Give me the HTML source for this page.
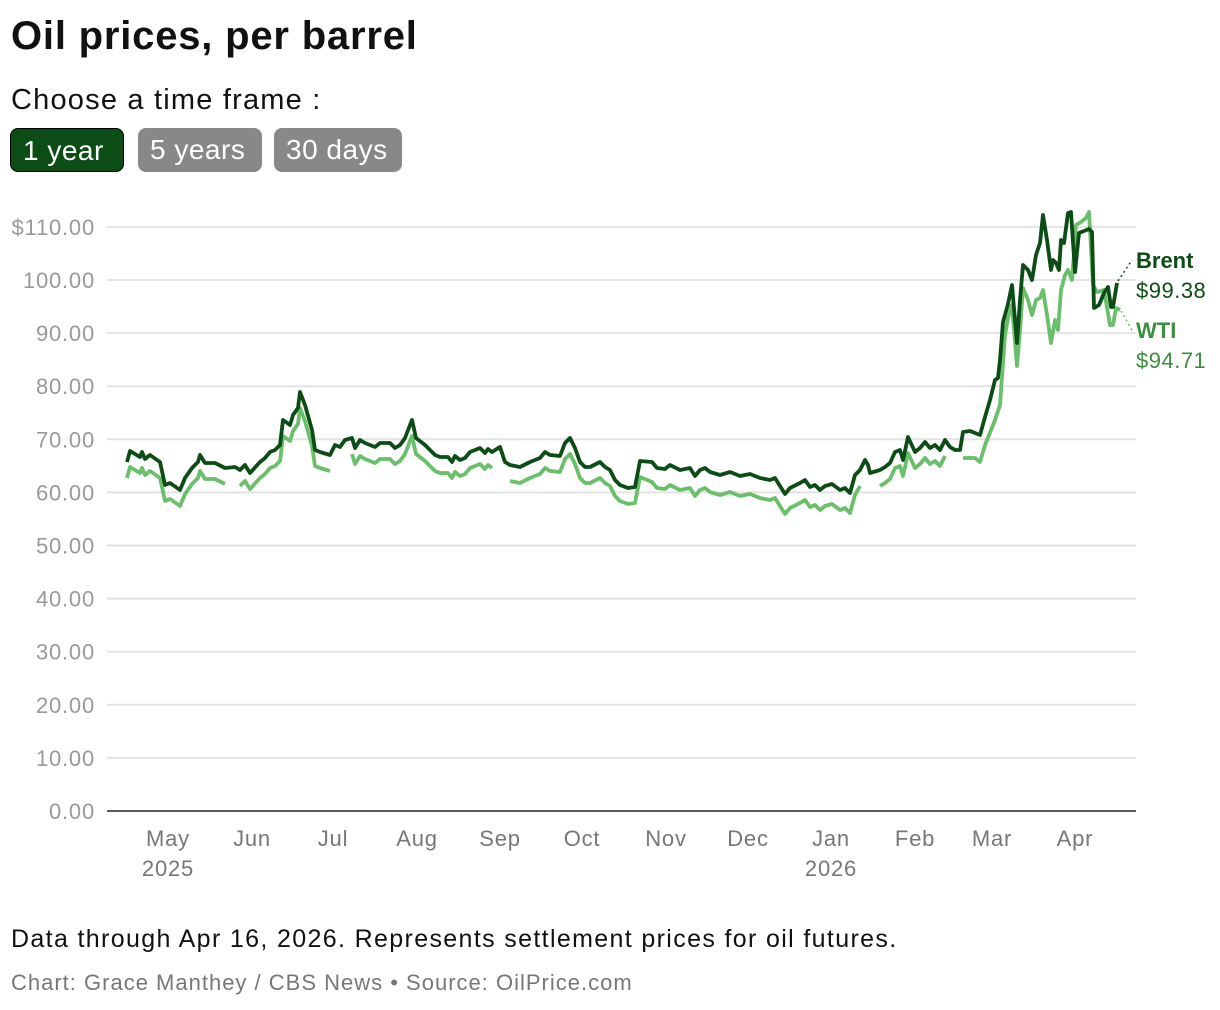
<!DOCTYPE html>
<html><head><meta charset="utf-8"><style>
body{margin:0;width:1220px;height:1010px;background:#fff;font-family:"Liberation Sans",sans-serif;color:#111;position:relative;overflow:hidden}
.t{position:absolute;left:11px;top:14px;font-size:40px;font-weight:bold;letter-spacing:0.8px}
.c{position:absolute;left:11px;top:84px;font-size:29px;letter-spacing:1.2px}
.b{position:absolute;top:128px;height:44px;border-radius:8px;font-size:28px;color:#fff;line-height:44px;padding:0 12px;box-sizing:border-box;letter-spacing:0.5px}
.n{position:absolute;left:11px;top:925px;font-size:25px;letter-spacing:1.35px}
.s{position:absolute;left:11px;top:970px;font-size:22px;color:#777;letter-spacing:1px}
</style></head><body>
<div class="t">Oil prices, per barrel</div>
<div class="c">Choose a time frame :</div>
<div class="b" style="left:10px;width:114px;background:#0b4d15;border:1.5px solid #000">1 year</div>
<div class="b" style="left:138px;width:124px;background:#888">5 years</div>
<div class="b" style="left:274px;width:128px;background:#888">30 days</div>
<svg width="1220" height="1010" style="position:absolute;left:0;top:0" id="s">
<g stroke="#e3e3e3" stroke-width="2" id="g"></g>
<g font-size="22" fill="#999" text-anchor="end" id="yl" letter-spacing="0.8"></g>
<line x1="107" x2="1136" y1="811" y2="811" stroke="#222" stroke-width="1.5"/>
<g font-size="22" fill="#777" text-anchor="middle" letter-spacing="0.8">
<text x="168" y="846">May</text><text x="168" y="876">2025</text><text x="252" y="846">Jun</text><text x="333" y="846">Jul</text><text x="417" y="846">Aug</text><text x="500" y="846">Sep</text><text x="582" y="846">Oct</text><text x="666" y="846">Nov</text><text x="748" y="846">Dec</text><text x="831" y="846">Jan</text><text x="831" y="876">2026</text><text x="915" y="846">Feb</text><text x="992" y="846">Mar</text><text x="1075" y="846">Apr</text>
</g>
<g id="lines" fill="none" stroke-width="3.8" stroke-linejoin="round"></g>
<line x1="1118" y1="281" x2="1132" y2="260" stroke="#0b4d15" stroke-width="1.5" stroke-dasharray="2,3"/>
<line x1="1121" y1="311" x2="1133" y2="332" stroke="#6abf6a" stroke-width="1.5" stroke-dasharray="2,3"/>
<text x="1136" y="268" font-size="22" font-weight="bold" fill="#0b4d15">Brent</text>
<text x="1136" y="298" font-size="22" fill="#0b4d15" letter-spacing="0.5">$99.38</text>
<text x="1136" y="338" font-size="22" font-weight="bold" fill="#3e8e41">WTI</text>
<text x="1136" y="368" font-size="22" fill="#3e8e41" letter-spacing="0.5">$94.71</text>
</svg>
<div class="n">Data through Apr 16, 2026. Represents settlement prices for oil futures.</div>
<div class="s">Chart: Grace Manthey / CBS News • Source: OilPrice.com</div>
<script>
var NS="http://www.w3.org/2000/svg",g=document.getElementById('g'),yl=document.getElementById('yl');
for(var i=0;i<=11;i++){var y=811-i*53.1;if(i>0){var l=document.createElementNS(NS,'line');l.setAttribute('x1',107);l.setAttribute('x2',1136);l.setAttribute('y1',y);l.setAttribute('y2',y);g.appendChild(l);}
var t=document.createElementNS(NS,'text');t.setAttribute('x',95);t.setAttribute('y',y+8);t.textContent=(i==11?'$':'')+(i*10).toFixed(2);yl.appendChild(t);}
var B=[127,462,130,451,140,457,142,452,145,459,150,455,160,462,165,485,170,483,180,490,185,478,192,468,198,462,200,455,205,463,215,463,225,468,235,467,240,470,245,465,250,473,260,462,265,458,270,452,275,450,280,445,283,420,290,425,293,415,298,408,300,392,305,405,312,430,315,450,320,452,330,455,335,445,340,447,345,440,352,438,355,448,360,440,365,443,375,447,380,443,390,443,395,448,400,445,405,438,410,425,412,420,416,438,425,445,430,450,435,455,440,457,448,457,452,462,455,456,460,460,465,458,470,452,475,450,480,448,485,453,488,449,492,452,500,447,505,462,510,465,520,467,530,462,540,458,545,452,550,455,560,456,565,443,570,438,575,448,580,462,585,467,590,467,600,462,605,467,610,470,615,480,620,485,628,488,635,487,640,461,652,462,657,468,665,469,670,465,680,470,690,468,695,476,700,470,705,468,710,472,720,475,730,472,740,476,750,474,760,478,770,480,775,478,780,486,785,494,790,488,800,483,805,480,810,487,815,485,820,490,825,486,832,484,840,490,845,488,850,493,855,475,860,470,865,460,868,465,870,473,880,470,885,467,890,463,895,452,900,450,903,460,908,437,915,452,920,448,925,442,930,448,935,445,940,450,945,440,950,447,955,450,960,450,963,432,970,431,980,435,985,417,990,400,995,380,998,378,1000,360,1003,322,1008,304,1012,285,1015,320,1017,343,1020,300,1023,265,1028,270,1032,280,1036,255,1040,243,1043,215,1047,240,1051,270,1053,260,1056,263,1059,270,1061,240,1064,243,1068,213,1071,212,1075,272,1079,233,1084,231,1089,229,1092,232,1094,308,1099,305,1104,293,1108,287,1111,307,1113,307,1117,283];
var gaps=[[230,240],[332,346],[493,508],[862,872],[945,960],[735,740]];
function ing(x){for(var k=0;k<gaps.length;k++)if(x>gaps[k][0]&&x<gaps[k][1])return true;return false;}
var segs=[],cur=[];
for(var i=0;i<B.length;i+=2){var x=B[i];if(x>=960)break;if(ing(x)){if(cur.length)segs.push(cur);cur=[];continue;}cur.push(x+','+(B[i+1]+16+(x>640&&x<860?4:0)));}
if(cur.length)segs.push(cur);
segs.push("963,458 975,458 980,462 985,445 995,420 1000,405 1005,335 1008,318 1012,305 1017,366 1020,330 1023,288 1028,300 1032,315 1036,300 1040,298 1043,290 1047,315 1051,343 1055,320 1058,330 1061,290 1065,275 1068,270 1072,280 1076,225 1081,222 1086,218 1089,212 1093,285 1097,292 1104,290 1110,325 1113,325 1116,308 1120,310".split(' '));
var L=document.getElementById('lines');
segs.forEach(function(s){var p=document.createElementNS(NS,'polyline');p.setAttribute('points',s.join(' '));p.setAttribute('stroke','#6abf6a');L.appendChild(p);});
var bp=[];for(var i=0;i<B.length;i+=2)bp.push(B[i]+','+B[i+1]);
var p=document.createElementNS(NS,'polyline');p.setAttribute('points',bp.join(' '));p.setAttribute('stroke','#0b4d15');L.appendChild(p);
</script>
</body></html>
